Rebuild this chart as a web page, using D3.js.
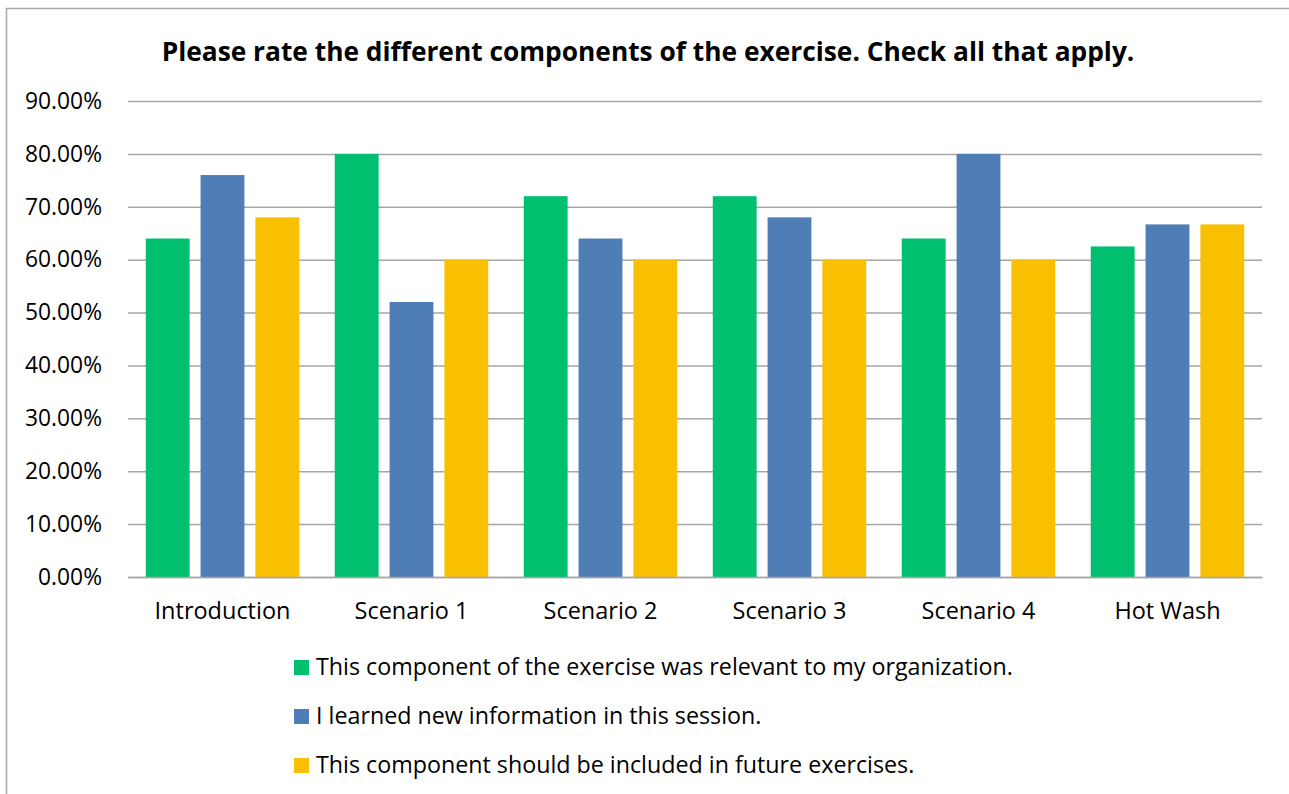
<!DOCTYPE html>
<html>
<head>
<meta charset="utf-8">
<script src="https://cdn.jsdelivr.net/npm/d3@7/dist/d3.min.js"></script>
<style>
  html, body { margin: 0; padding: 0; background: #fff; }
  svg { display: block; }
  text { font-family: "Open Sans", Lato, "Noto Sans", sans-serif; fill: #000; }
</style>
</head>
<body>
<svg id="chart" width="1289" height="794"></svg>
<script>
// Survey components and answers (share of respondents)
const categories = ["Introduction", "Scenario 1", "Scenario 2", "Scenario 3", "Scenario 4", "Hot Wash"];
const seriesNames = [
  "This component of the exercise was relevant to my organization.",
  "I learned new information in this session.",
  "This component should be included in future exercises."
];
const relevant = [0.64, 0.80, 0.72, 0.72, 0.64, 0.625];
const learned  = [0.76, 0.52, 0.64, 0.68, 0.80, 0.6667];
const future   = [0.68, 0.60, 0.60, 0.60, 0.60, 0.6667];
const yTicks = [0, 0.1, 0.2, 0.3, 0.4, 0.5, 0.6, 0.7, 0.8, 0.9];
const colors = ["#00BF6F", "#4F7DB5", "#F8C000"];
const titleText = "Please rate the different components of the exercise. Check all that apply.";

const seriesValues = [relevant, learned, future];

const svg = d3.select("#chart");

// pick a font size so that a sample string renders at the wanted width
function fitSize(sample, targetWidth, weight) {
  const probe = svg.append("text").style("font-size", "20px")
    .style("font-weight", weight || "normal").text(sample);
  const w = probe.node().getComputedTextLength();
  probe.remove();
  return 20 * targetWidth / w;
}
const tickSize = fitSize("90.00%", 77);
const catSize = fitSize("Introduction", 136);
const legendSize = fitSize(seriesNames[0], 697);
const titleSize = fitSize(titleText, 973, "bold");

// outer chart frame (only top and left edges fall inside the page)
svg.append("rect")
  .attr("x", 6.5).attr("y", 8.5)
  .attr("width", 1400).attr("height", 900)
  .attr("fill", "none").attr("stroke", "#A6A6A6").attr("stroke-width", 1.5);

const plot = { left: 128, right: 1262, top: 101, bottom: 577 };

const y = d3.scaleLinear().domain([0, 0.9]).range([plot.bottom, plot.top]);
const x0 = d3.scaleBand().domain(categories).range([plot.left, plot.right]).padding(0);
const groupInset = x0.bandwidth() * 0.094;
const x1 = d3.scaleBand().domain(d3.range(seriesValues.length))
  .range([groupInset, x0.bandwidth() - groupInset]).paddingInner(0.2).paddingOuter(0);

// horizontal gridlines + y labels via axis
const yAxis = d3.axisLeft(y).tickValues(yTicks)
  .tickSize(-(plot.right - plot.left)).tickPadding(26)
  .tickFormat(d => (d * 100).toFixed(2) + "%");

const gy = svg.append("g").attr("transform", `translate(${plot.left},0)`).call(yAxis);
gy.attr("font-family", null);
gy.select(".domain").remove();
gy.selectAll(".tick line").attr("stroke", "#A6A6A6").attr("stroke-width", 1.5);
gy.selectAll(".tick text").style("font-size", tickSize + "px").attr("fill", "#000");

// bars
const groups = svg.append("g").selectAll("g")
  .data(categories).join("g")
  .attr("transform", d => `translate(${x0(d)},0)`);

groups.selectAll("rect")
  .data((d, i) => seriesValues.map((vals, s) => ({ s, v: vals[i] })))
  .join("rect")
  .attr("x", d => x1(d.s))
  .attr("width", x1.bandwidth())
  .attr("y", d => y(d.v))
  .attr("height", d => y(0) - y(d.v))
  .attr("fill", d => colors[d.s]);

// category axis
const xAxis = d3.axisBottom(x0).tickSize(0).tickPadding(25);
const gx = svg.append("g").attr("transform", `translate(0,${plot.bottom})`).call(xAxis);
gx.attr("font-family", null);
gx.select(".domain").attr("stroke", "#A6A6A6").attr("stroke-width", 1.5);
gx.selectAll(".tick text").style("font-size", catSize + "px").attr("fill", "#000");

// title
svg.append("text")
  .attr("x", 648).attr("y", 61)
  .attr("text-anchor", "middle")
  .style("font-size", titleSize + "px").style("font-weight", "bold")
  .text(titleText);

// legend
const legend = svg.append("g").attr("transform", "translate(294,0)");
const legendRows = legend.selectAll("g").data(seriesNames).join("g")
  .attr("transform", (d, i) => `translate(0,${667 + i * 49})`);
legendRows.append("rect")
  .attr("x", 0).attr("y", -7).attr("width", 15).attr("height", 15)
  .attr("fill", (d, i) => colors[i]);
legendRows.append("text")
  .attr("x", 22).attr("y", 0).attr("dy", "0.35em")
  .style("font-size", legendSize + "px")
  .text(d => d);
</script>
</body>
</html>
